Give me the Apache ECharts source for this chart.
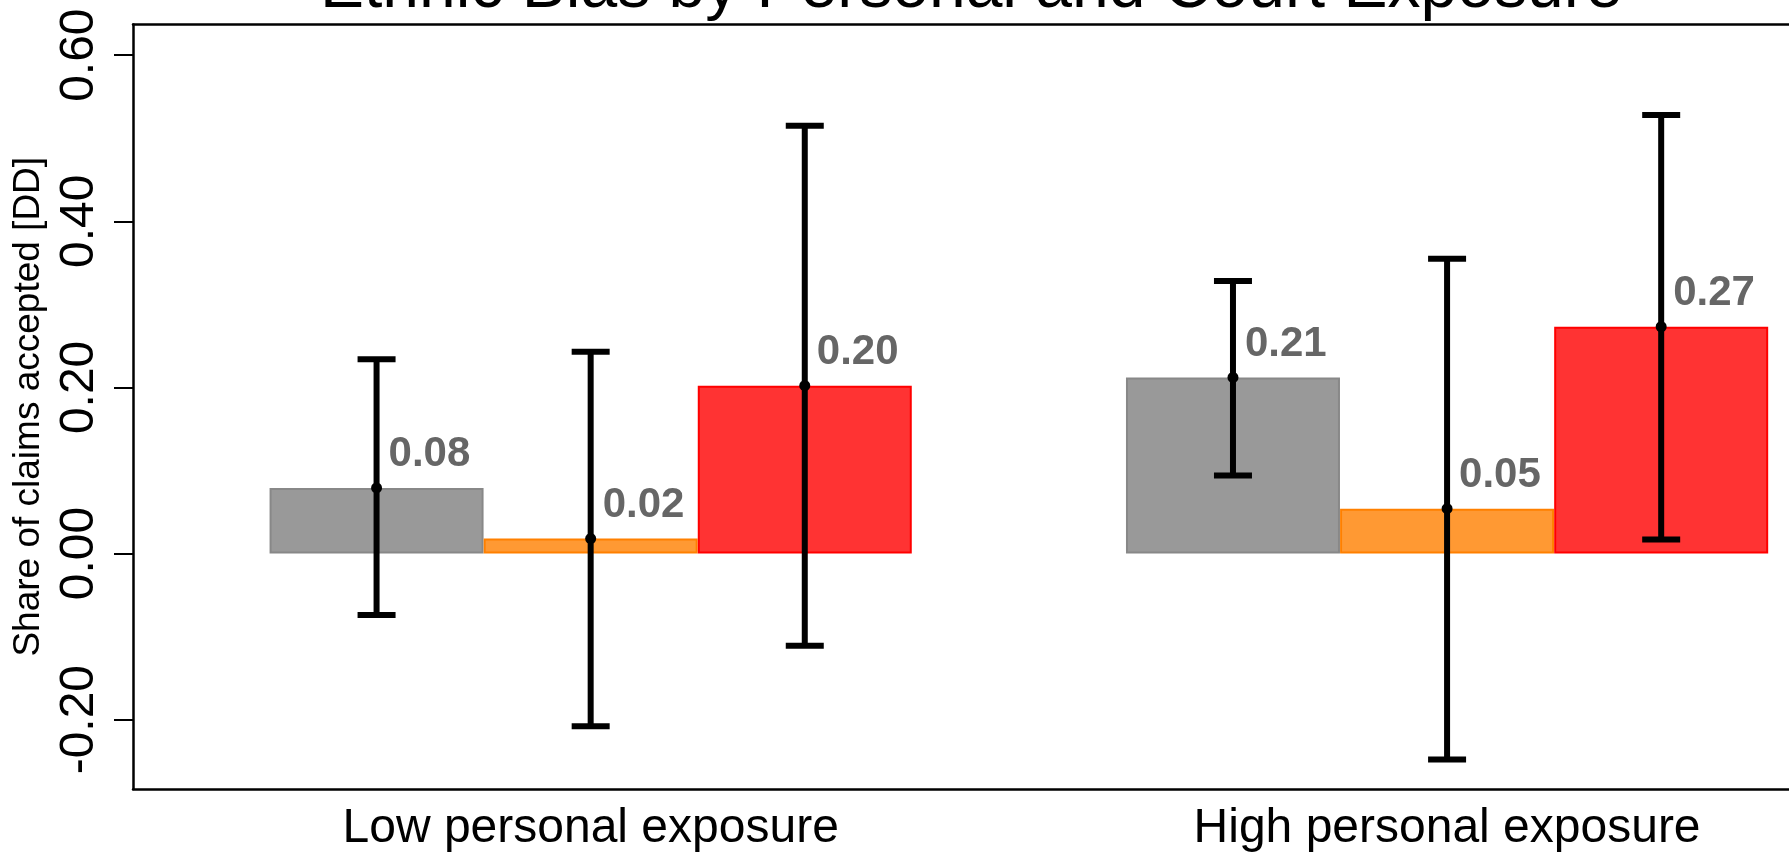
<!DOCTYPE html>
<html>
<head>
<meta charset="utf-8">
<script src="https://cdn.jsdelivr.net/npm/echarts@6/dist/echarts.min.js"></script>
<style>
  html, body { margin: 0; padding: 0; background: #fff; }
  #chart { width: 1789px; height: 853px; }
</style>
</head>
<body>
<div id="chart"></div>
<script>
// ---- data ----
var categories = ['Low personal exposure', 'High personal exposure'];
var grayVals = [0.079, 0.212];
var orangeVals = [0.018, 0.054];
var redVals = [0.202, 0.273];
var grayLow = [-0.074, 0.094];
var grayHigh = [0.234, 0.328];
var orangeLow = [-0.208, -0.248];
var orangeHigh = [0.243, 0.355];
var redLow = [-0.111, 0.017];
var redHigh = [0.515, 0.528];
var yTicks = [-0.2, 0, 0.2, 0.4, 0.6];

var FONT = '"Liberation Sans", Arial, Helvetica, sans-serif';
var seriesVals = [grayVals, orangeVals, redVals];
var seriesLow = [grayLow, orangeLow, redLow];
var seriesHigh = [grayHigh, orangeHigh, redHigh];
var fills = ['#999999', '#FF9933', '#FF3333'];
var borders = ['#888888', '#FF8000', '#FF0000'];

// R barplot-style layout: bar width 1 unit, one empty unit between groups
function barPos(groupIdx, seriesIdx) { return 1.5 + 4 * groupIdx + seriesIdx; }
var groupCenters = categories.map(function (c, i) { return barPos(i, 1); });

var errData = [];
for (var k = 0; k < 3; k++) {
  for (var i = 0; i < categories.length; i++) {
    errData.push([barPos(i, k), seriesLow[k][i], seriesHigh[k][i], seriesVals[k][i]]);
  }
}

var barSeries = seriesVals.map(function (vals, k) {
  return {
    type: 'bar',
    name: 's' + k,
    data: vals.map(function (v, i) { return [barPos(i, k), v]; }),
    barWidth: 214,
    barGap: '-100%',
    itemStyle: { color: fills[k], borderColor: borders[k], borderWidth: 2 },
    label: {
      show: true,
      position: ['50%', -33],
      offset: [12, 0],
      align: 'left',
      verticalAlign: 'middle',
      fontFamily: FONT,
      fontSize: 42,
      fontWeight: 'bold',
      color: '#666666',
      formatter: function (p) { return p.value[1].toFixed(2); }
    },
    z: 2
  };
});

var chart = echarts.init(document.getElementById('chart'), null, { renderer: 'canvas' });
var yMin = -0.2835, yMax = 0.6369;
var xMin = 0.3624, xMax = 8.097;
var frameLine = { show: true, onZero: false, lineStyle: { color: '#000', width: 2.5 } };

chart.setOption({
  animation: false,
  backgroundColor: '#ffffff',
  title: {
    text: 'Ethnic Bias by Personal and Court Exposure',
    left: 315,
    top: -49,
    textStyle: { fontFamily: FONT, fontSize: 66, fontWeight: 'normal', color: '#000' }
  },
  grid: { left: 133, right: 0, top: 24.5, bottom: 63 },
  xAxis: [
    {
      type: 'value', min: xMin, max: xMax, position: 'bottom',
      axisLine: frameLine, axisTick: { show: false }, splitLine: { show: false },
      axisLabel: {
        customValues: groupCenters,
        fontFamily: FONT, fontSize: 48, color: '#000', margin: 16,
        formatter: function (v) {
          var idx = groupCenters.indexOf(v);
          return idx >= 0 ? categories[idx] : '';
        }
      }
    },
    {
      type: 'value', min: xMin, max: xMax, position: 'top',
      axisLine: frameLine, axisTick: { show: false }, splitLine: { show: false },
      axisLabel: { show: false }
    }
  ],
  yAxis: {
    type: 'value', min: yMin, max: yMax,
    name: 'Share of claims accepted [DD]',
    nameLocation: 'middle', nameGap: 86, nameRotate: 90,
    nameTextStyle: { fontFamily: FONT, fontSize: 37, color: '#000' },
    axisLine: frameLine,
    splitLine: { show: false },
    axisTick: { show: true, length: 19, customValues: yTicks,
                lineStyle: { color: '#000', width: 2 } },
    axisLabel: { customValues: yTicks, rotate: 90, margin: 29,
                 fontFamily: FONT, fontSize: 48, color: '#000',
                 formatter: function (v) { return v.toFixed(2); } }
  },
  series: barSeries.concat([{
    type: 'custom',
    data: errData,
    z: 5,
    clip: false,
    renderItem: function (params, api) {
      var x = api.coord([api.value(0), 0])[0];
      var yLo = api.coord([api.value(0), api.value(1)])[1];
      var yHi = api.coord([api.value(0), api.value(2)])[1];
      var yM = api.coord([api.value(0), api.value(3)])[1];
      var cap = 19;
      var st = { stroke: '#000', lineWidth: 6 };
      return {
        type: 'group',
        children: [
          { type: 'line', shape: { x1: x, y1: yLo, x2: x, y2: yHi }, style: st },
          { type: 'line', shape: { x1: x - cap, y1: yHi, x2: x + cap, y2: yHi }, style: st },
          { type: 'line', shape: { x1: x - cap, y1: yLo, x2: x + cap, y2: yLo }, style: st },
          { type: 'circle', shape: { cx: x, cy: yM, r: 5.5 }, style: { fill: '#000' } }
        ]
      };
    }
  }])
});
</script>
</body>
</html>
